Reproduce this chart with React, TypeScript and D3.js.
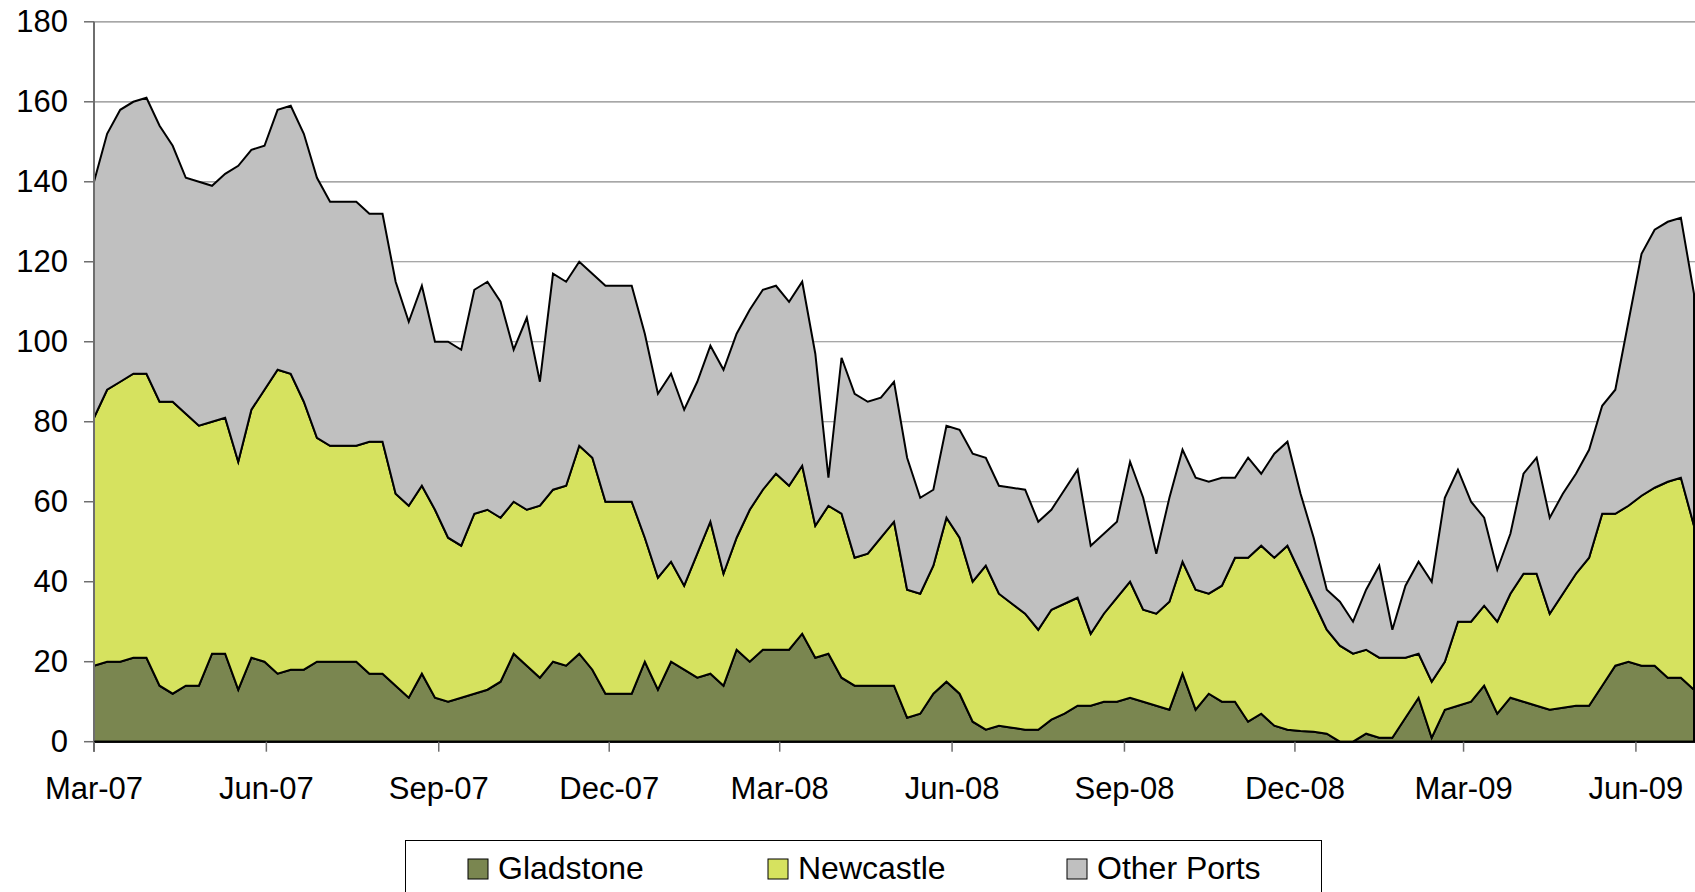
import React from "react";
import * as d3 from "d3";

// Weekly coal export series (Mt annualised), starting week of 1 Mar 2007
const startDate = "2007-03-01";
const gladstone = [
  19, 20, 20, 21, 21, 14, 12, 14, 14, 22, 22, 13, 21, 20, 17, 18, 18, 20, 20, 20,
  20, 17, 17, 14, 11, 17, 11, 10, 11, 12, 13, 15, 22, 19, 16, 20, 19, 22, 18, 12,
  12, 12, 20, 13, 20, 18, 16, 17, 14, 23, 20, 23, 23, 23, 27, 21, 22, 16, 14, 14,
  14, 14, 6, 7, 12, 15, 12, 5, 3, 4, 3.5, 3, 3, 5.5, 7, 9, 9, 10, 10, 11,
  10, 9, 8, 17, 8, 12, 10, 10, 5, 7, 4, 3, 2.7, 2.5, 2, 0, 0, 2, 1, 1,
  6, 11, 1, 8, 9, 10, 14, 7, 11, 10, 9, 8, 8.5, 9, 9, 14, 19, 20, 19, 19,
  16, 16, 13,
];
const newcastle = [
  62, 68, 70, 71, 71, 71, 73, 68, 65, 58, 59, 57, 62, 68, 76, 74, 67, 56, 54, 54,
  54, 58, 58, 48, 48, 47, 47, 41, 38, 45, 45, 41, 38, 39, 43, 43, 45, 52, 53, 48,
  48, 48, 31, 28, 25, 21, 31, 38, 28, 28, 38, 40, 44, 41, 42, 33, 37, 41, 32, 33,
  37, 41, 32, 30, 32, 41, 39, 35, 41, 33, 31, 29, 25, 27.5, 27.5, 27, 18, 22, 26, 29,
  23, 23, 27, 28, 30, 25, 29, 36, 41, 42, 42, 46, 39.3, 32.5, 26, 24, 22, 21, 20, 20,
  15, 11, 14, 12, 21, 20, 20, 23, 26, 32, 33, 24, 28.5, 33, 37, 43, 38, 39, 42.5, 44.5,
  49, 50, 41,
];
const otherPorts = [
  59, 64, 68, 68, 69, 69, 64, 59, 61, 59, 61, 74, 65, 61, 65, 67, 67, 65, 61, 61,
  61, 57, 57, 53, 46, 50, 42, 49, 49, 56, 57, 54, 38, 48, 31, 54, 51, 46, 46, 54,
  54, 54, 51, 46, 47, 44, 43, 44, 51, 51, 50, 50, 47, 46, 46, 43, 7, 39, 41, 38,
  35, 35, 33, 24, 19, 23, 27, 32, 27, 27, 29, 31, 27, 25, 28.5, 32, 22, 20, 19, 30,
  28, 15, 26, 28, 28, 28, 27, 20, 25, 18, 26, 26, 20, 16, 10, 11, 8, 15, 23, 7,
  18, 23, 25, 41, 38, 30, 22, 13, 15, 25, 29, 24, 25, 25, 27, 27, 31, 46, 60.5, 64.5,
  65, 65, 58,
];
const seriesNames = ["Gladstone", "Newcastle", "Other Ports"];
const seriesColors = ["#7a8650", "#d6e25f", "#c0c0c0"];
const yTicks = [0, 20, 40, 60, 80, 100, 120, 140, 160, 180];
const xTickDates = [
  "2007-03-01", "2007-06-01", "2007-09-01", "2007-12-01", "2008-03-01",
  "2008-06-01", "2008-09-01", "2008-12-01", "2009-03-01", "2009-06-01",
];

const W = 1695;
const H = 892;
const plotLeft = 94;
const plotRight = 1694;
const plotTop = 21.8;
const plotBottom = 741.7;
const FONT = "'Liberation Sans', Arial, sans-serif";

export default function App() {
  const parse = d3.timeParse("%Y-%m-%d");
  const start = parse(startDate) as Date;
  const rows = gladstone.map((g, i) => ({
    date: d3.timeDay.offset(start, 7 * i),
    Gladstone: g,
    Newcastle: newcastle[i],
    "Other Ports": otherPorts[i],
  }));
  const x = d3
    .scaleTime()
    .domain([rows[0].date, rows[rows.length - 1].date])
    .range([plotLeft, plotRight]);
  const y = d3.scaleLinear().domain([0, 180]).range([plotBottom, plotTop]);
  const stack = d3.stack<any>().keys(seriesNames);
  const layers = stack(rows);
  const area = d3
    .area<any>()
    .x((d) => x(d.data.date))
    .y0((d) => y(d[0]))
    .y1((d) => y(d[1]));
  const fmt = d3.timeFormat("%b-%y");
  const ticks = xTickDates.map((s) => parse(s) as Date);

  const legendX = [468, 768, 1067];

  return (
    <svg
      width={W}
      height={H}
      style={{ position: "absolute", left: 0, top: 0, background: "#fff" }}
      fontFamily={FONT}
    >
      <rect x={0} y={0} width={W} height={H} fill="#fff" />
      {yTicks.map((t) => (
        <line
          key={"g" + t}
          x1={plotLeft}
          x2={W}
          y1={y(t)}
          y2={y(t)}
          stroke="#8a8a8a"
          strokeWidth={1.2}
        />
      ))}
      {layers.map((layer, k) => (
        <path
          key={layer.key}
          d={area(layer) || ""}
          fill={seriesColors[k]}
          stroke="#000"
          strokeWidth={2}
          strokeLinejoin="miter"
        />
      ))}
      <line x1={plotLeft} x2={plotLeft} y1={plotTop} y2={plotBottom + 10} stroke="#6e6e6e" strokeWidth={2} />
      <line x1={plotLeft} x2={W} y1={plotBottom} y2={plotBottom} stroke="#000" strokeWidth={2} />
      {yTicks.map((t) => (
        <g key={"y" + t}>
          <line x1={plotLeft - 10} x2={plotLeft} y1={y(t)} y2={y(t)} stroke="#6e6e6e" strokeWidth={1.5} />
          <text x={68} y={y(t)} textAnchor="end" dominantBaseline="central" fontSize={31} fill="#000">
            {t}
          </text>
        </g>
      ))}
      {ticks.map((d, i) => (
        <g key={"x" + i}>
          <line x1={x(d)} x2={x(d)} y1={plotBottom} y2={plotBottom + 10} stroke="#6e6e6e" strokeWidth={1.5} />
          <text x={x(d)} y={799} textAnchor="middle" fontSize={31} fill="#000">
            {fmt(d)}
          </text>
        </g>
      ))}
      <rect x={405.5} y={840.5} width={916} height={80} fill="#fff" stroke="#000" strokeWidth={1} />
      {seriesNames.map((n, k) => (
        <g key={"l" + n}>
          <rect
            x={legendX[k]}
            y={859}
            width={20}
            height={20}
            fill={seriesColors[k]}
            stroke="#000"
            strokeWidth={1}
        />
          <text x={legendX[k] + 30} y={879} fontSize={32} fill="#000">
            {n}
          </text>
        </g>
      ))}
    </svg>
  );
}
